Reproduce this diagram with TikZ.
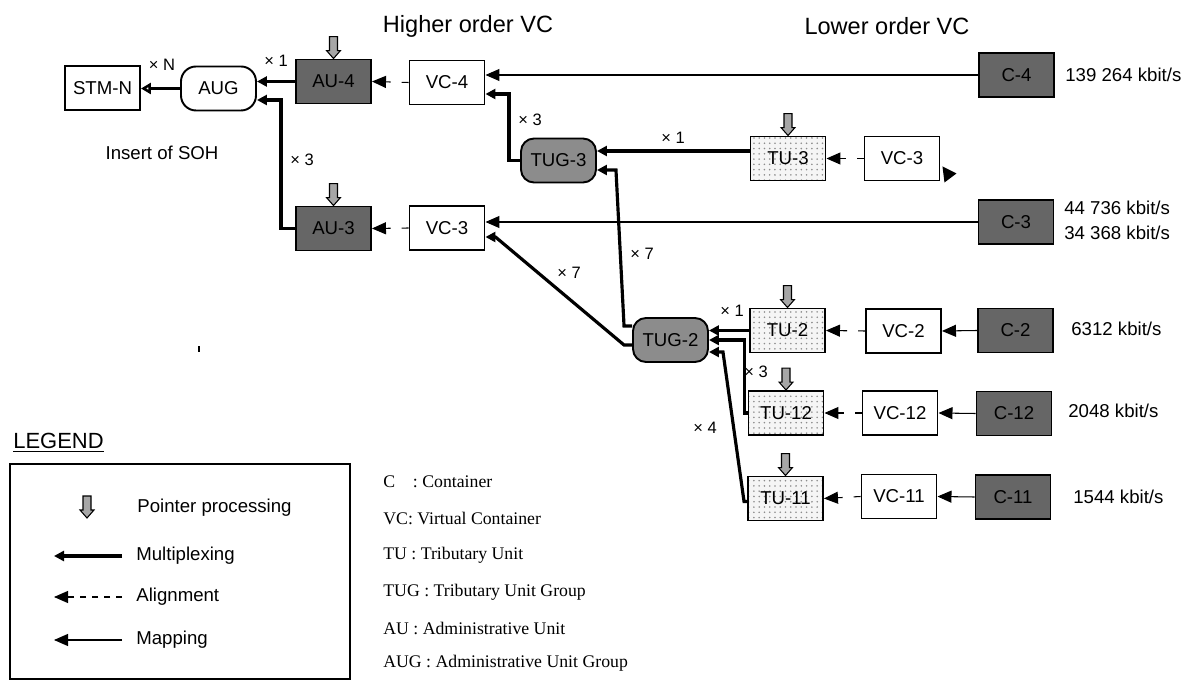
\documentclass[tikz,border=0pt]{standalone}
\usepackage{fontspec}
\setmainfont{Liberation Sans}
\newfontfamily\legendserif{Liberation Serif}
\usetikzlibrary{arrows.meta,patterns}

% pointer processing symbol, tip at #1
\newcommand{\ptr}[1]{\draw[ptrarrow] (#1) ++(-0.08,0.44) -- ++(0.16,0) -- ++(0,-0.28) -- ++(0.06,0)
  -- ++(-0.14,-0.16) -- ++(-0.14,0.16) -- ++(0.06,0) -- cycle;}

\begin{document}
\begin{tikzpicture}[
  box/.style={draw,line width=1.1pt,minimum width=1.5cm,minimum height=0.88cm,inner sep=0pt,
    font=\fontsize{10.6}{12}\selectfont},
  vcbox/.style={box,fill=white},
  darkbox/.style={box,fill=black!60},
  tubox/.style={box,preaction={fill=black!4},pattern=dots,pattern color=black!45},
  tugbox/.style={box,fill=black!45,rounded corners=0.26cm},
  augbox/.style={box,fill=white,rounded corners=0.3cm},
  mux/.style={line width=1.8pt,-{Triangle[length=2mm,width=2mm]}},
  algn/.style={line width=0.6pt,dash pattern=on 1.4mm off 2.2mm,-{Triangle[length=2.8mm,width=2.4mm]}},
  mapping/.style={line width=0.6pt,-{Triangle[length=2.8mm,width=2.4mm]}},
  ptrarrow/.style={fill=black!35,draw=black,line width=0.6pt},
  lbl/.style={font=\fontsize{10.6}{12}\selectfont},
  mult/.style={font=\fontsize{9.4}{11}\selectfont},
  head/.style={font=\fontsize{13.4}{16}\selectfont},
  rate/.style={lbl,anchor=west,inner sep=0pt},
  legtext/.style={lbl,anchor=west,inner sep=0pt},
  deftext/.style={anchor=west,inner sep=0pt,font=\legendserif\fontsize{10.1}{12}\selectfont},
]
  \useasboundingbox (0,0) rectangle (23.96,13.62);

  \node[head] (hovc) at (9.36,13.1) {Higher order VC};
  \node[head] (lovc) at (17.74,13.1) {Lower order VC};

  % higher order part
  \node[box,fill=white] (stmn) at (2.05,11.86) {STM-N};
  \node[augbox] (aug) at (4.37,11.85) {AUG};
  \node[darkbox] (au4) at (6.67,11.99) {AU-4};
  \node[vcbox] (vc4) at (8.94,11.97) {VC-4};
  \node[darkbox] (au3) at (6.67,9.05) {AU-3};
  \node[vcbox] (vc3h) at (8.94,9.06) {VC-3};
  \node[tugbox] (tug3) at (11.17,10.41) {TUG-3};
  \node[tugbox] (tug2) at (13.41,6.82) {TUG-2};

  % lower order part
  \node[tubox] (tu3) at (15.76,10.45) {TU-3};
  \node[vcbox] (vc3l) at (18.04,10.45) {VC-3};
  \node[tubox] (tu2) at (15.75,7.01) {TU-2};
  \node[vcbox] (vc2) at (18.07,7.0) {VC-2};
  \node[tubox] (tu12) at (15.72,5.36) {TU-12};
  \node[vcbox] (vc12) at (18.0,5.36) {VC-12};
  \node[tubox] (tu11) at (15.71,3.65) {TU-11};
  \node[vcbox] (vc11) at (17.98,3.69) {VC-11};

  % containers
  \node[darkbox] (c4) at (20.33,12.12) {C-4};
  \node[darkbox] (c3) at (20.32,9.18) {C-3};
  \node[darkbox] (c2) at (20.31,7.01) {C-2};
  \node[darkbox] (c12) at (20.28,5.35) {C-12};
  \node[darkbox] (c11) at (20.26,3.68) {C-11};

  \node[rate] (r4) at (21.3,12.12) {139 264 kbit/s};
  \node[rate] (r3a) at (21.28,9.46) {44 736 kbit/s};
  \node[rate] (r3b) at (21.28,8.96) {34 368 kbit/s};
  \node[rate] (r2) at (21.42,7.04) {6312 kbit/s};
  \node[rate] (r12) at (21.36,5.40) {2048 kbit/s};
  \node[rate] (r11) at (21.46,3.68) {1544 kbit/s};

  \ptr{au4.north}
  \ptr{au3.north}
  \ptr{tu3.north}
  \ptr{tu2.north}
  \ptr{tu12.north}
  \ptr{tu11.north}

  % connectors
  \draw[line width=1.6pt,-{Triangle[fill=white,length=2mm,width=2.2mm]}] (aug.west) -- (aug.west -| stmn.east);
  \draw[mux] (au4.west) -- (au4.west -| aug.east);
  \draw[mux] (au3.west) -- ++(-0.28,0) |- ([yshift=-0.23cm]aug.east);
  \draw[algn] (vc4.west) -- (au4.east);
  \draw[algn] (vc3h.west) -- (au3.east);
  \draw[mapping] (c4.west) -- (c4.west -| vc4.east);
  \draw[mapping] (c3.west) -- (c3.west -| vc3h.east);
  \draw[mux] (tug3.west) -- ++(-0.22,0) |- ([yshift=-0.23cm]vc4.east);
  \draw[mux] ([yshift=0.15cm]tu3.west) -- ([yshift=0.15cm]tu3.west -| tug3.east);
  \draw[algn] (vc3l.west) -- (tu3.east);
  \fill (vc3l.south east) ++(0.04,0.3) -- ++(0.28,-0.14) -- ++(-0.24,-0.18) -- cycle;
  \draw[mux] ([yshift=0.28cm]tug2.west) -- ++(-0.16,0) -- ([xshift=0.38cm,yshift=-0.19cm]tug3.east)
    -- ([yshift=-0.19cm]tug3.east);
  \draw[mux] ([yshift=-0.1cm]tug2.west) -- ++(-0.16,0) -- ([xshift=0.2cm,yshift=-0.18cm]vc3h.east)
    -- ([yshift=-0.18cm]vc3h.east);
  \draw[mux] (tu2.west) -- (tu2.west -| tug2.east);
  \draw[mux] (tu12.west) -- ++(-0.06,0) |- (tug2.east);
  \draw[mux] ([yshift=-0.06cm]tu11.west) -- ++(-0.06,0) -- ([xshift=0.28cm,yshift=-0.24cm]tug2.east)
    -- ([yshift=-0.24cm]tug2.east);
  \draw[algn] (vc2.west) -- (tu2.east);
  \draw[algn] (vc12.west) -- (tu12.east);
  \draw[algn] (vc11.west) -- (tu11.east);
  \draw[mapping] (c2.west) -- (vc2.east);
  \draw[mapping] (c12.west) -- (vc12.east);
  \draw[mapping] (c11.west) -- (vc11.east);

  % multiplication factors
  \node[mult] (xn) at (3.24,12.32) {× N};
  \node[mult] (xau4) at (5.52,12.4) {× 1};
  \node[mult] (xau3) at (6.04,10.42) {× 3};
  \node[mult] (xtug3) at (10.6,11.22) {× 3};
  \node[mult] (xtu3) at (13.46,10.86) {× 1};
  \node[mult] (xtug2a) at (12.84,8.54) {× 7};
  \node[mult] (xtug2b) at (11.38,8.16) {× 7};
  \node[mult] (xtu2) at (14.64,7.4) {× 1};
  \node[mult] (xtu12) at (15.12,6.18) {× 3};
  \node[mult] (xtu11) at (14.1,5.06) {× 4};

  \node[lbl] (soh) at (3.24,10.56) {Insert of SOH};
  \draw[line width=0.6pt] (3.98,6.58) -- (3.98,6.7);

  % legend
  \node[anchor=west,inner sep=0pt,font=\fontsize{12.5}{14}\selectfont] (legend) at (0.26,4.76) {\underline{LEGEND}};
  \draw[line width=0.85pt] (0.2,4.34) rectangle (7.0,0.04);
  \ptr{1.74,3.26}
  \node[legtext] (lptr) at (2.74,3.46) {Pointer processing};
  \coordinate (lmuxa) at (2.44,2.5);
  \coordinate (lmuxb) at (1.08,2.5);
  \draw[mux] (lmuxa) -- (lmuxb);
  \node[legtext] (lmux) at (2.72,2.5) {Multiplexing};
  \coordinate (lalga) at (2.44,1.68);
  \coordinate (lalgb) at (1.08,1.68);
  \draw[algn,dash pattern=on 1.2mm off 1.2mm] (lalga) -- (lalgb);
  \node[legtext] (lalg) at (2.72,1.68) {Alignment};
  \coordinate (lmapa) at (2.44,0.82);
  \coordinate (lmapb) at (1.08,0.82);
  \draw[mapping] (lmapa) -- (lmapb);
  \node[legtext] (lmap) at (2.72,0.82) {Mapping};

  \node[deftext] (dc) at (7.66,3.98) {C\quad: Container};
  \node[deftext] (dvc) at (7.66,3.26) {VC: Virtual Container};
  \node[deftext] (dtu) at (7.66,2.52) {TU : Tributary Unit};
  \node[deftext] (dtug) at (7.66,1.78) {TUG : Tributary Unit Group};
  \node[deftext] (dau) at (7.66,1.06) {AU : Administrative Unit};
  \node[deftext] (daug) at (7.66,0.36) {AUG : Administrative Unit Group};
\end{tikzpicture}
\end{document}
